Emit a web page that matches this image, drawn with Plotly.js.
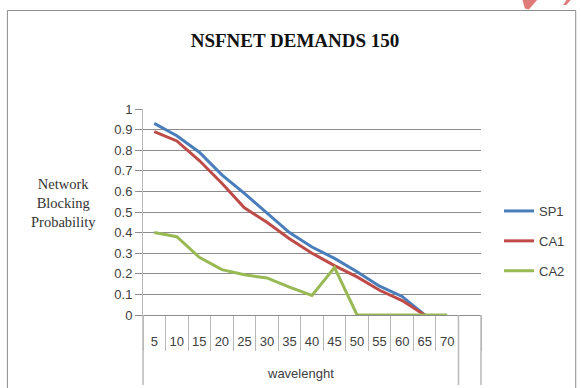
<!DOCTYPE html>
<html>
<head>
<meta charset="utf-8">
<script src="https://cdn.plot.ly/plotly-3.0.1.min.js"></script>
<style>
  html, body { margin: 0; padding: 0; background: #ffffff; }
  #chart { width: 581px; height: 388px; }
</style>
</head>
<body>
<div id="chart"></div>
<script>
// Wavelength counts on the category axis
const wavelengths = [5, 10, 15, 20, 25, 30, 35, 40, 45, 50, 55, 60, 65, 70];
const tickLabels = ['5', '10', '15', '20', '25', '30', '35', '40', '45', '50', '55', '60', '65', '70'];

// Network blocking probability per routing scheme
const sp1 = [0.93, 0.87, 0.79, 0.68, 0.59, 0.495, 0.40, 0.33, 0.275, 0.21, 0.14, 0.09, 0.0];
const ca1 = [0.89, 0.845, 0.75, 0.64, 0.52, 0.45, 0.37, 0.30, 0.24, 0.185, 0.12, 0.07, 0.0];
const ca2 = [0.40, 0.38, 0.28, 0.22, 0.195, 0.18, 0.135, 0.095, 0.23, 0.0, 0.0, 0.0, 0.0, 0.0];

const seriesNames = ['SP1', 'CA1', 'CA2'];
const seriesValues = [sp1, ca1, ca2];
const seriesColors = ['#4a7ebb', '#be4b48', '#98b954'];

const traces = seriesValues.map((vals, i) => ({
  type: 'scatter',
  mode: 'lines',
  name: seriesNames[i],
  legendgroup: seriesNames[i],
  x: wavelengths.slice(0, vals.length),
  y: vals,
  line: { color: seriesColors[i], width: 3 },
  hoverinfo: 'x+y+name'
}));

// Category slot width and edges (one empty slot after the last label)
const step = wavelengths[1] - wavelengths[0];
const xMin = wavelengths[0] - step / 2;
const xLabeledEnd = wavelengths[wavelengths.length - 1] + step / 2;
const xMax = xLabeledEnd + step;

// Helpers for decorations placed in pixel terms
const L = 143, R = 99, T = 109, B = 73, W = 581, H = 388;
const pw = W - L - R, ph = H - T - B;
const px = v => (v - L) / pw;
const py = v => (H - B - v) / ph;

const grey = '#8c8c8c';
const lightGrey = '#b8b8b8';

const layout = {
  width: W,
  height: H,
  margin: { l: L, r: R, t: T, b: B, pad: 0 },
  paper_bgcolor: '#ffffff',
  plot_bgcolor: '#ffffff',
  showlegend: true,
  title: {
    text: 'NSFNET DEMANDS 150',
    x: 295 / W,
    xanchor: 'center',
    y: 1 - 40 / H,
    yanchor: 'middle',
    font: { family: 'Liberation Serif, Times New Roman, serif', size: 19, color: '#111111', weight: 'bold' }
  },
  xaxis: {
    type: 'linear',
    range: [xMin, xMax],
    tickmode: 'array',
    tickvals: wavelengths,
    ticktext: tickLabels,
    ticks: '',
    ticklabelstandoff: 14,
    showgrid: false,
    zeroline: false,
    showline: true,
    linecolor: grey,
    linewidth: 1,
    tickfont: { family: 'Liberation Sans, Arial, sans-serif', size: 13, color: '#404040' },
    fixedrange: true
  },
  xaxis2: {
    overlaying: 'x',
    anchor: 'y',
    side: 'bottom',
    range: [xMin, xMax],
    tick0: xMin,
    dtick: step,
    ticks: 'outside',
    ticklen: 35,
    tickwidth: 1,
    tickcolor: lightGrey,
    showticklabels: false,
    showgrid: false,
    zeroline: false,
    showline: false
  },
  yaxis: {
    range: [0, 1],
    tick0: 0,
    dtick: 0.1,
    ticks: 'outside',
    ticklen: 7,
    tickcolor: grey,
    showgrid: true,
    gridcolor: grey,
    gridwidth: 1,
    zeroline: false,
    showline: true,
    linecolor: lightGrey,
    linewidth: 1,
    tickfont: { family: 'Liberation Sans, Arial, sans-serif', size: 13, color: '#404040' },
    fixedrange: true
  },
  legend: {
    x: px(499),
    xanchor: 'left',
    y: py(241),
    yanchor: 'middle',
    bgcolor: 'rgba(0,0,0,0)',
    borderwidth: 0,
    tracegroupgap: 10,
    font: { family: 'Liberation Sans, Arial, sans-serif', size: 13, color: '#404040' }
  },
  annotations: [
    {
      text: 'Network<br>Blocking<br>Probability',
      xref: 'paper', yref: 'paper',
      x: px(63), y: py(203),
      xanchor: 'center', yanchor: 'middle',
      showarrow: false,
      align: 'center',
      font: { family: 'Liberation Serif, Times New Roman, serif', size: 14.5, color: '#333333' }
    },
    {
      text: 'wavelenght',
      xref: 'x', yref: 'paper',
      x: (xMin + xLabeledEnd) / 2, y: py(373),
      xanchor: 'center', yanchor: 'middle',
      showarrow: false,
      font: { family: 'Liberation Sans, Arial, sans-serif', size: 13, color: '#404040' }
    }
  ],
  shapes: [
    // chart frame
    { type: 'rect', xref: 'paper', yref: 'paper', x0: px(7), x1: px(577), y0: py(430), y1: py(10.5),
      line: { color: grey, width: 1 }, fillcolor: 'rgba(0,0,0,0)', layer: 'below' },
    // long group separators under the category axis
    { type: 'line', xref: 'paper', yref: 'paper', x0: 0, x1: 0, y0: 0, y1: py(385),
      line: { color: lightGrey, width: 1.5 } },
    { type: 'line', xref: 'x', yref: 'paper', x0: xLabeledEnd, x1: xLabeledEnd, y0: 0, y1: py(385),
      line: { color: lightGrey, width: 1.5 } },
    { type: 'line', xref: 'paper', yref: 'paper', x0: 1, x1: 1, y0: 0, y1: py(385),
      line: { color: lightGrey, width: 1.5 } },
    // red pen strokes in the top corner
    { type: 'path', xref: 'paper', yref: 'paper',
      path: `M${px(523)},${py(-2)} L${px(540)},${py(-2)} L${px(530)},${py(9.5)} L${px(526)},${py(8.5)} Z`,
      fillcolor: '#e07b7b', line: { width: 0 } },
    { type: 'path', xref: 'paper', yref: 'paper',
      path: `M${px(569)},${py(-2)} L${px(574)},${py(-2)} L${px(567.5)},${py(5)} L${px(564.5)},${py(5)} Z`,
      fillcolor: '#e07b7b', line: { width: 0 } }
  ]
};

// invisible carrier so the boundary-tick axis is drawn
const tickCarrier = {
  type: 'scatter', mode: 'lines', x: [xMin, xMax], y: [0, 0], xaxis: 'x2', yaxis: 'y',
  line: { width: 0, color: 'rgba(0,0,0,0)' }, showlegend: false, hoverinfo: 'skip'
};

Plotly.newPlot('chart', [tickCarrier].concat(traces), layout, { displayModeBar: false, staticPlot: true });
</script>
</body>
</html>
